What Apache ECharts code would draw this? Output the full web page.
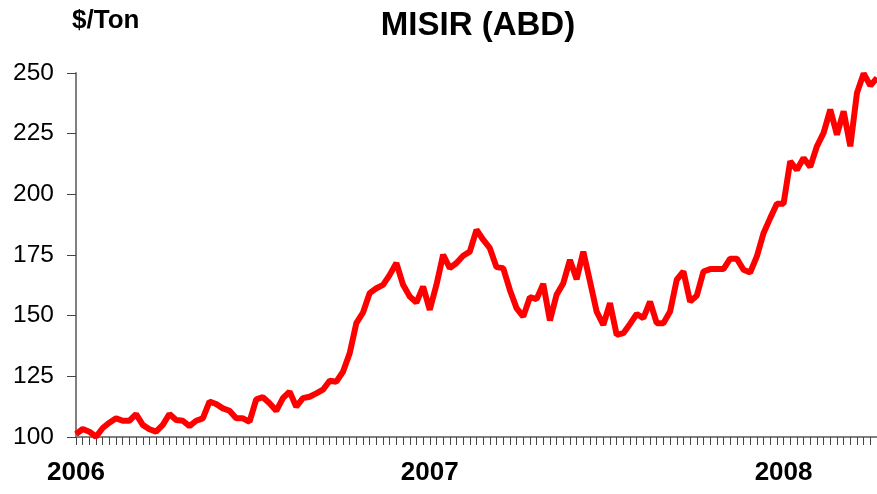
<!DOCTYPE html>
<html>
<head>
<meta charset="utf-8">
<script src="https://cdn.jsdelivr.net/npm/echarts@6/dist/echarts.min.js"></script>
<style>
  html, body { margin: 0; padding: 0; background: #fff; }
  #chart { width: 877px; height: 494px; }
</style>
</head>
<body>
<div id="chart"></div>
<script>
// haftalık fiyatlar, 2006 başından 2008 nisanına kadar ($/Ton)
const prices = [
  101.2, 103.3, 102.2, 100.1, 103.7, 105.9, 107.7, 106.7, 106.7, 109.4,
  105.0, 103.2, 102.2, 105.0, 109.5, 107.0, 106.7, 104.5, 106.7, 107.7,
  114.6, 113.6, 111.8, 110.8, 107.7, 107.7, 106.3, 115.5, 116.4, 113.9,
  110.8, 116.0, 118.7, 112.5, 116.0, 116.6, 118.0, 119.5, 123.2, 122.8,
  126.9, 134.5, 146.9, 151.3, 159.3, 161.3, 162.7, 166.8, 171.7, 162.7,
  157.9, 155.4, 162.0, 152.4, 162.7, 175.1, 169.6, 171.7, 174.7, 176.4,
  185.4, 181.3, 177.8, 170.0, 169.6, 160.6, 153.1, 149.6, 157.6, 156.8,
  163.1, 148.0, 158.6, 163.4, 173.0, 165.0, 176.4, 164.1, 151.7, 146.2,
  155.2, 142.1, 142.8, 146.6, 150.7, 149.0, 155.8, 146.9, 146.9, 151.7,
  164.8, 168.2, 155.8, 158.2, 168.2, 169.2, 169.2, 169.2, 173.5, 173.5,
  168.9, 167.8, 174.4, 184.0, 190.2, 196.1, 196.1, 213.6, 210.1, 215.0,
  211.3, 219.8, 225.3, 234.9, 224.6, 234.2, 219.8, 241.8, 249.8, 244.8,
  248.0
]

// yıl etiketleri ve başladıkları hafta
const yearLabels = ['2006', '2007', '2008']
const yearStartIndex = [0, 53, 106]

const weeks = prices.map((_, i) => String(i))

const chart = echarts.init(document.getElementById('chart'))

const font = 'Liberation Sans, Arial, sans-serif'

chart.setOption({
  animation: false,
  title: [
    {
      text: 'MISIR (ABD)',
      left: 473,
      top: 4,
      textAlign: 'center',
      textStyle: { fontFamily: font, fontSize: 33, fontWeight: 'bold', color: '#000' },
    },
    {
      text: '$/Ton',
      left: 67,
      top: 3,
      textStyle: { fontFamily: font, fontSize: 26, fontWeight: 'bold', color: '#000' },
    },
  ],
  grid: {
    left: 76,
    right: -1,
    top: 73,
    bottom: 57,
  },
  xAxis: {
    type: 'category',
    data: weeks,
    boundaryGap: false,
    axisLine: { lineStyle: { color: '#808080', width: 2 } },
    axisTick: {
      interval: 0,
      length: 8,
      lineStyle: { color: '#444', width: 1 },
    },
    axisLabel: {
      interval: (index) => yearStartIndex.includes(index),
      formatter: (value) => {
        const k = yearStartIndex.indexOf(Number(value))
        return k >= 0 ? yearLabels[k] : ''
      },
      margin: 23,
      fontFamily: font,
      fontSize: 26,
      fontWeight: 'bold',
      color: '#000',
    },
    splitLine: { show: false },
  },
  yAxis: {
    type: 'value',
    min: 100,
    max: 250,
    interval: 25,
    axisLine: { show: true, lineStyle: { color: '#808080', width: 2 } },
    axisTick: { show: true, length: 9, lineStyle: { color: '#444', width: 1 } },
    axisLabel: {
      margin: 22,
      fontFamily: font,
      fontSize: 24.5,
      color: '#000',
    },
    splitLine: { show: false },
  },
  series: [
    {
      type: 'line',
      data: prices,
      symbol: 'none',
      clip: false,
      lineStyle: { color: '#ff0000', width: 6 },
    },
  ],
})
</script>
</body>
</html>
